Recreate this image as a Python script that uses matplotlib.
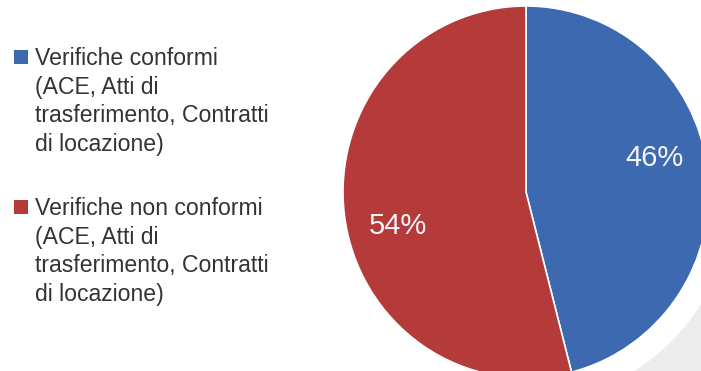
import numpy as np
import matplotlib
matplotlib.use('Agg')
import matplotlib.pyplot as plt
from matplotlib.patches import Wedge, Rectangle

# Data
labels = ['Verifiche conformi\n(ACE, Atti di\ntrasferimento, Contratti\ndi locazione)',
          'Verifiche non conformi\n(ACE, Atti di\ntrasferimento, Contratti\ndi locazione)']
values = [46, 54]
colors = ['#3D69B1', '#B53A3A']

W, H = 701, 371
fig = plt.figure(figsize=(W / 100, H / 100), dpi=100)
fig.patch.set_facecolor('white')

# pie axes placed in pixels (centre 526,192; radii 183 x 186)
cx, cy, rx, ry = 526, 192, 183, 186
ax = fig.add_axes([(cx - rx) / W, (H - cy - ry) / H, 2 * rx / W, 2 * ry / H])

wedges, texts, autotexts = ax.pie(
    values, colors=colors, startangle=90, counterclock=False, radius=1,
    autopct='%d%%', pctdistance=0.725,
    wedgeprops=dict(edgecolor='white', linewidth=1.2),
    textprops=dict(color='#F4F4F8', fontsize=21, family='Liberation Sans'))
ax.set_aspect('auto')
ax.set_xlim(-1, 1)
ax.set_ylim(-1, 1)
ax.axis('off')
for w in wedges:
    w.set_zorder(2)

# faint grey slide decoration in the lower right corner
ax.add_patch(Wedge((0, 0), 2.2, -72, -12, width=2.2 - 1.13,
                   facecolor='#ececec', edgecolor='none', zorder=0, clip_on=False))

# labels sit a bit counter-clockwise of the wedge middles
for w, t in zip(wedges, autotexts):
    mid = np.deg2rad((w.theta1 + w.theta2) / 2 + 7.5)
    t.set_position((0.725 * np.cos(mid), 0.725 * np.sin(mid)))
    t.set_zorder(3)

# legend drawn by hand so the squares line up with the first text line
tops = [49, 199]
for lab, col, top in zip(labels, colors, tops):
    fig.patches.append(Rectangle((14 / W, (H - top - 15) / H), 14 / W, 14 / H,
                                 transform=fig.transFigure, facecolor=col,
                                 edgecolor='none'))
    fig.text(35 / W, (H - top + 2) / H, lab, ha='left', va='top',
             fontsize=16.6, family='Liberation Sans', color='#333333',
             linespacing=1.31)

fig.savefig('out.png', dpi=100, facecolor='white')
